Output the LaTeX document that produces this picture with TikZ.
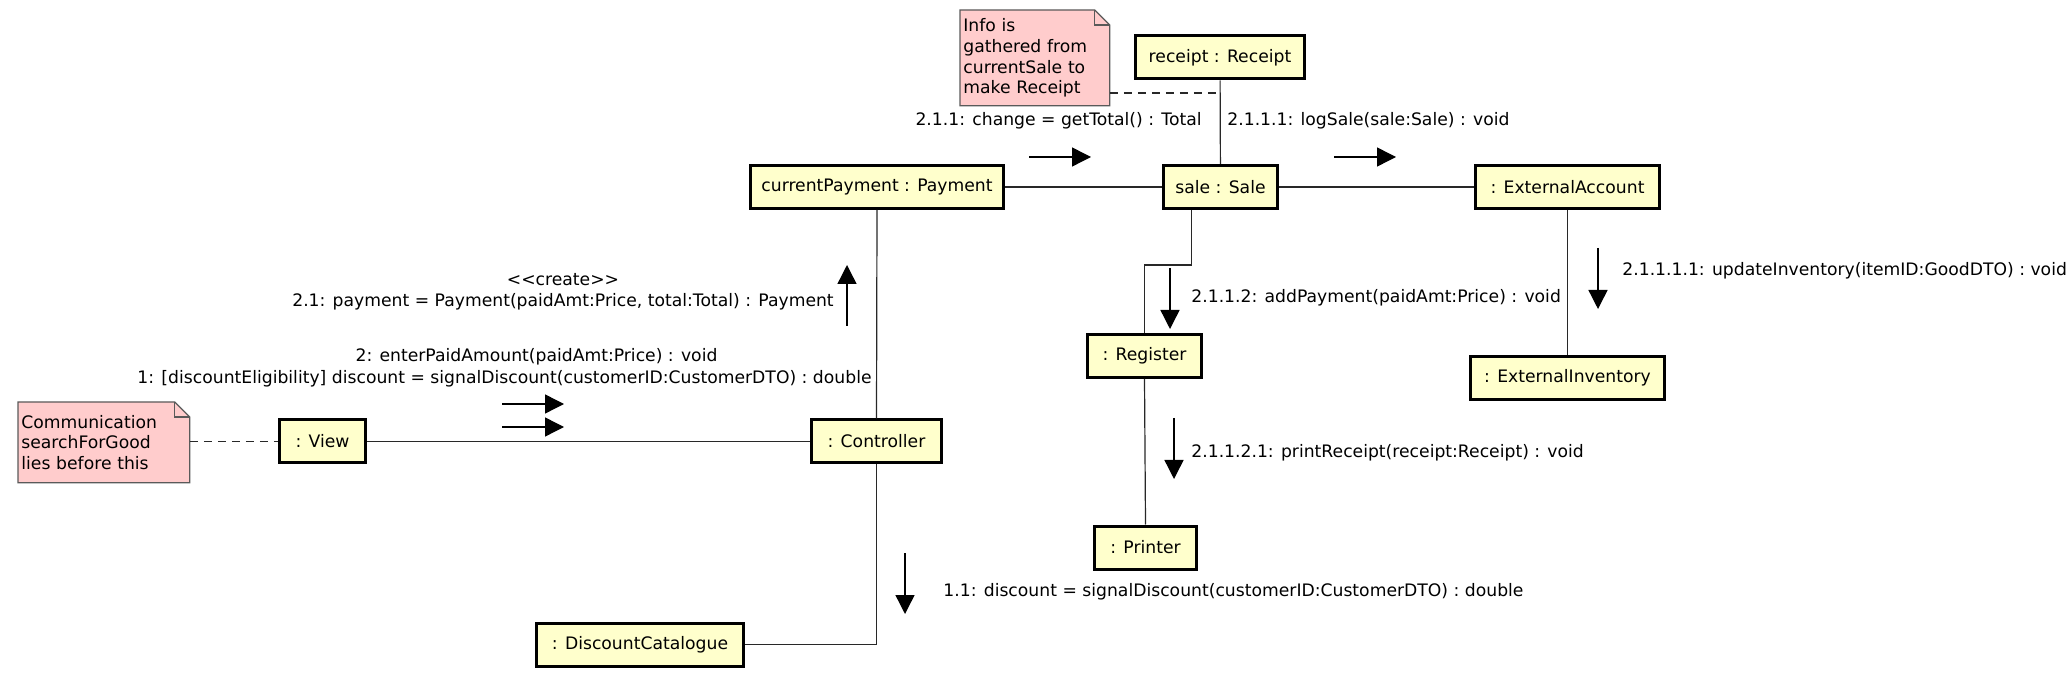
\documentclass[tikz,border=0pt]{standalone}
\usepackage{fontspec}
\setmainfont{DejaVu Sans}
\usetikzlibrary{arrows.meta,backgrounds}

\definecolor{objfill}{RGB}{255,255,204}
\definecolor{notefill}{RGB}{255,204,204}
\definecolor{linkgray}{RGB}{40,40,40}
\definecolor{noteedge}{RGB}{90,90,90}

\tikzset{
	obj/.style={draw, line width=1.5pt, fill=objfill, inner sep=0pt, minimum height=21.5pt},
	note/.style={inner sep=1.5pt, align=left, anchor=north west},
	notebox/.style={draw=noteedge, fill=notefill, line width=0.6pt},
	link/.style={draw=linkgray, line width=0.6pt},
	notelink/.style={link, dash pattern=on 4pt off 3pt},
	msg/.style={-{Triangle[length=9.5pt,width=9.5pt]}, line width=0.7pt},
	lbl/.style={inner sep=0pt}
}

\begin{document}
\begin{tikzpicture}[x=0.5pt, y=-0.5pt, font=\fontsize{8.6}{10.4}\selectfont]
	\useasboundingbox (0,0) rectangle (2072,678);

	\node[obj, minimum width=84.5pt] (receipt) at (1220,57.5) {receipt : Receipt};
	\node[obj, minimum width=126.5pt] (payment) at (877,187) {currentPayment : Payment};
	\node[obj, minimum width=57pt] (sale) at (1220.5,187) {sale : Sale};
	\node[obj, minimum width=92pt] (account) at (1567.5,187) {: ExternalAccount};
	\node[obj, minimum width=97pt] (inventory) at (1567.5,378) {: ExternalInventory};
	\node[obj, minimum width=57pt] (register) at (1144.5,356) {: Register};
	\node[obj, minimum width=51pt] (printer) at (1145.5,547.5) {: Printer};
	\node[obj, minimum width=43pt] (view) at (322.5,441.5) {: View};
	\node[obj, minimum width=65pt] (controller) at (876.5,441.5) {: Controller};
	\node[obj, minimum width=103.5pt] (catalogue) at (640,644.5) {: DiscountCatalogue};

	\node[note, text width=71.5pt, minimum height=47.5pt] (infoNote) at (960,10) {Info is\\gathered from\\currentSale to\\make Receipt};
	\node[note, text width=82.5pt, minimum height=40pt] (commNote) at (18,402) {Communication\\searchForGood\\lies before this};
	\begin{scope}[on background layer]
		\draw[notebox] (infoNote.south west) -- (infoNote.north west) -- ([xshift=-7.5pt]infoNote.north east) -- ([yshift=-7.5pt]infoNote.north east) -- (infoNote.south east) -- cycle;
		\draw[notebox, fill=none] ([xshift=-7.5pt]infoNote.north east) |- ([yshift=-7.5pt]infoNote.north east);
		\draw[notebox] (commNote.south west) -- (commNote.north west) -- ([xshift=-7.5pt]commNote.north east) -- ([yshift=-7.5pt]commNote.north east) -- (commNote.south east) -- cycle;
		\draw[notebox, fill=none] ([xshift=-7.5pt]commNote.north east) |- ([yshift=-7.5pt]commNote.north east);
	\end{scope}

	\coordinate (infoLink) at (1220,93);
	\coordinate (saleBend) at (1191.5,265);

	\draw[link] (receipt) -- (sale);
	\draw[link] (payment) -- (sale);
	\draw[link] (sale) -- (account);
	\draw[link] (account) -- (inventory);
	\draw[link] (payment.south) -- (controller.north);
	\draw[link] (view) -- (controller);
	\draw[link] (controller.south) |- (catalogue.east);
	\draw[link] (sale.south -| saleBend) -- (saleBend) -| (register.north);
	\draw[link] (register.south) -- (printer.north);
	\draw[notelink] (infoNote.east |- infoLink) -- (infoLink);
	\draw[notelink] (commNote.east |- view.west) -- (view.west);

	\node[lbl, anchor=east] (lChange) at (1202,121) {2.1.1: change = getTotal() : Total};
	\node[lbl, anchor=west] (lLogSale) at (1227,121) {2.1.1.1: logSale(sale:Sale) : void};
	\node[lbl, align=center] (lCreate) at (563,292) {<{}<create>{}>\\2.1: payment = Payment(paidAmt:Price, total:Total) : Payment};
	\node[lbl] (lEnter) at (536.5,357) {2: enterPaidAmount(paidAmt:Price) : void};
	\node[lbl] (lSignal) at (504.5,379) {1: [discountEligibility] discount = signalDiscount(customerID:CustomerDTO) : double};
	\node[lbl, anchor=west] (lAddPay) at (1191,298) {2.1.1.2: addPayment(paidAmt:Price) : void};
	\node[lbl, anchor=west] (lUpdate) at (1622,271) {2.1.1.1.1: updateInventory(itemID:GoodDTO) : void};
	\node[lbl, anchor=west] (lPrint) at (1191,453) {2.1.1.2.1: printReceipt(receipt:Receipt) : void};
	\node[lbl, anchor=west] (lDiscount) at (943,592) {1.1: discount = signalDiscount(customerID:CustomerDTO) : double};

	\coordinate (mChange) at (1029,157);
	\coordinate (mLogSale) at (1334,157);
	\coordinate (mCreate) at (847,326);
	\coordinate (mEnter) at (502,404);
	\coordinate (mSignal) at (502,427);
	\coordinate (mAddPay) at (1170,268);
	\coordinate (mUpdate) at (1598,248);
	\coordinate (mPrint) at (1174,418);
	\coordinate (mDiscount) at (905,553);

	\draw[msg] (mChange) -- ++(62,0);
	\draw[msg] (mLogSale) -- ++(62,0);
	\draw[msg] (mCreate) -- ++(0,-61);
	\draw[msg] (mEnter) -- ++(62,0);
	\draw[msg] (mSignal) -- ++(62,0);
	\draw[msg] (mAddPay) -- ++(0,61);
	\draw[msg] (mUpdate) -- ++(0,61);
	\draw[msg] (mPrint) -- ++(0,61);
	\draw[msg] (mDiscount) -- ++(0,61);
\end{tikzpicture}
\end{document}
